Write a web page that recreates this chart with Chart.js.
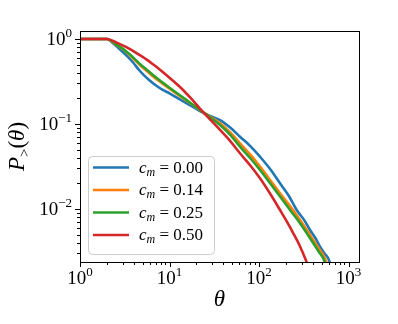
<!DOCTYPE html>
<html>
<head>
<meta charset="utf-8">
<script src="https://cdn.jsdelivr.net/npm/chart.js@4.4.0/dist/chart.umd.min.js"></script>
<style>
html, body { margin:0; padding:0; background:#fff; }
</style>
</head>
<body>
<canvas id="chart" width="398" height="324"></canvas>
<script>
// values (complementary CDF of theta)
var cmLabels = ['0.00', '0.14', '0.25', '0.50'];
var colors = ['#1f77b4', '#ff7f0e', '#2ca02c', '#d62728'];

var blueX = [1, 2, 2.4, 2.8, 3.4, 3.94, 4.5, 5.1, 6, 7.2, 8.5, 10.1, 12.5, 15.6, 21.9, 28, 36.7, 48, 61.3, 80, 102.6, 135, 171.7, 215, 263.8, 320, 371.5, 430, 480.5, 540, 594.5, 640];
var blueY = [1, 1, 0.87, 0.75, 0.62, 0.525, 0.44, 0.38, 0.325, 0.28, 0.25, 0.228, 0.2, 0.175, 0.142, 0.125, 0.111, 0.09, 0.0709, 0.055, 0.0412, 0.029, 0.0201, 0.0143, 0.00973, 0.0074, 0.00566, 0.0045, 0.0036, 0.003, 0.00262, 0.0021];

var orangeX = [1, 2, 2.5, 3, 3.5, 4, 4.7, 5.5, 6.5, 7.5, 8.7, 10, 12.5, 15, 21.9, 28, 36.7, 48, 61.3, 80, 102.6, 135, 171.7, 230, 287.3, 345, 404.6, 470, 546, 590];
var orangeY = [1, 1, 0.86, 0.76, 0.66, 0.58, 0.49, 0.425, 0.365, 0.325, 0.29, 0.26, 0.22, 0.193, 0.146, 0.123, 0.102, 0.079, 0.0593, 0.0435, 0.0315, 0.0215, 0.0153, 0.0103, 0.00743, 0.0056, 0.00432, 0.0034, 0.00262, 0.0021];

var greenX = [1, 2, 2.5, 3, 3.5, 4, 4.7, 5.5, 6.5, 7.5, 8.7, 10, 12.5, 15, 21.9, 28, 36.7, 48, 61.3, 80, 102.6, 135, 171.7, 230, 287.3, 345, 404.6, 470, 522.9, 565];
var greenY = [1, 1, 0.87, 0.77, 0.675, 0.595, 0.505, 0.44, 0.38, 0.335, 0.298, 0.267, 0.225, 0.196, 0.146, 0.121, 0.0974, 0.074, 0.0541, 0.0395, 0.0288, 0.0197, 0.014, 0.0093, 0.00679, 0.0051, 0.00395, 0.0031, 0.00262, 0.0021];

var redX = [1, 2, 2.6, 3.3, 4.2, 5.56, 6.6, 7.83, 10, 13.1, 17, 21.9, 28, 36.7, 48, 61.3, 80, 102.6, 135, 171.7, 205, 241.7, 285, 326.6, 355];
var redY = [1, 1, 0.9, 0.8, 0.69, 0.572, 0.5, 0.435, 0.35, 0.272, 0.205, 0.152, 0.115, 0.085, 0.0625, 0.0452, 0.0325, 0.023, 0.0148, 0.00973, 0.0071, 0.00518, 0.0037, 0.00265, 0.0021];

// axis limits and decade ticks
var xMin = 1, xMax = 1310;
var yMin = 0.00238, yMax = 1.24;
var xMajorExp = [0, 1, 2, 3];
var yMajorExp = [-2, -1, 0];

var SERIF = '"Liberation Serif", "DejaVu Serif", serif';

function pts(xs, ys) {
    var out = [];
    for (var i = 0; i < xs.length; i++) out.push({x: xs[i], y: ys[i]});
    return out;
}

var seriesX = [blueX, orangeX, greenX, redX];
var seriesY = [blueY, orangeY, greenY, redY];
var datasets = [];
for (var i = 0; i < 4; i++) {
    datasets.push({
        label: 'c_m = ' + cmLabels[i],
        data: pts(seriesX[i], seriesY[i]),
        borderColor: colors[i],
        backgroundColor: colors[i],
        borderWidth: 2.6,
        pointRadius: 0,
        cubicInterpolationMode: 'monotone',
        fill: false,
        order: 3 - i
    });
}

// draws a run of text pieces (normal, sub, sup) starting at x
function drawParts(ctx, x, y, parts, align) {
    var total = 0;
    parts.forEach(function (p) { ctx.font = p.font; total += ctx.measureText(p.t).width; });
    if (align === 'center') x -= total / 2;
    if (align === 'right') x -= total;
    ctx.textAlign = 'left';
    ctx.textBaseline = 'alphabetic';
    parts.forEach(function (p) {
        ctx.font = p.font;
        ctx.fillText(p.t, x, y + (p.dy || 0));
        x += ctx.measureText(p.t).width;
    });
    return total;
}

function expStr(e) {
    return e < 0 ? '\u2212' + (-e) : String(e);
}

var mplAxes = {
    id: 'mplAxes',
    afterDatasetsDraw: function (chart) {
        var ctx = chart.ctx;
        var a = chart.chartArea;
        var xs = chart.scales.x, ys = chart.scales.y;
        ctx.save();
        ctx.fillStyle = '#000';
        ctx.strokeStyle = '#000';
        ctx.lineWidth = 1;

        // ticks
        ctx.beginPath();
        xMajorExp.forEach(function (e) {
            for (var m = 1; m < 10; m++) {
                var v = m * Math.pow(10, e);
                if (v < xMin || v > xMax) continue;
                var px = Math.round(xs.getPixelForValue(v)) + 0.5;
                ctx.moveTo(px, a.bottom);
                ctx.lineTo(px, a.bottom + (m === 1 ? 5 : 3));
            }
        });
        yMajorExp.concat([-3]).forEach(function (e) {
            for (var m = 1; m < 10; m++) {
                var v = m * Math.pow(10, e);
                if (v < yMin || v > yMax) continue;
                var py = Math.round(ys.getPixelForValue(v)) + 0.5;
                ctx.moveTo(a.left, py);
                ctx.lineTo(a.left - (m === 1 ? 5 : 3), py);
            }
        });
        ctx.stroke();

        // frame
        ctx.strokeRect(Math.round(a.left) + 0.5, Math.round(a.top) + 0.5,
            Math.round(a.right - a.left), Math.round(a.bottom - a.top));

        // tick labels
        xMajorExp.forEach(function (e) {
            var px = xs.getPixelForValue(Math.pow(10, e));
            drawParts(ctx, px, a.bottom + 22, [
                {t: '10', font: '19px ' + SERIF},
                {t: expStr(e), font: '13px ' + SERIF, dy: -8}
            ], 'center');
        });
        yMajorExp.forEach(function (e) {
            var py = ys.getPixelForValue(Math.pow(10, e));
            drawParts(ctx, a.left - 8, py + 6.5, [
                {t: '10', font: '19px ' + SERIF},
                {t: expStr(e), font: '13px ' + SERIF, dy: -8}
            ], 'right');
        });

        // axis titles
        drawParts(ctx, (a.left + a.right) / 2, 306, [
            {t: '\u03b8', font: 'italic 23px ' + SERIF}
        ], 'center');
        ctx.save();
        ctx.translate(24, (a.top + a.bottom) / 2);
        ctx.rotate(-Math.PI / 2);
        drawParts(ctx, 0, 0, [
            {t: 'P', font: 'italic 23px ' + SERIF},
            {t: '>', font: '15px ' + SERIF, dy: 5},
            {t: '(', font: '23px ' + SERIF},
            {t: '\u03b8', font: 'italic 23px ' + SERIF},
            {t: ')', font: '23px ' + SERIF}
        ], 'center');
        ctx.restore();

        // legend
        var lx = a.left + 8, ly = 156, lw = 126, lh = 98;
        ctx.beginPath();
        ctx.roundRect(lx + 0.5, ly + 0.5, lw, lh, 4);
        ctx.fillStyle = 'rgba(255,255,255,0.8)';
        ctx.fill();
        ctx.strokeStyle = '#cccccc';
        ctx.stroke();
        for (var i = 0; i < 4; i++) {
            var ry = ly + 11.5 + i * 22.5;
            ctx.beginPath();
            ctx.strokeStyle = colors[i];
            ctx.lineWidth = 2.6;
            ctx.moveTo(lx + 5, ry);
            ctx.lineTo(lx + 41, ry);
            ctx.stroke();
            ctx.fillStyle = '#000';
            drawParts(ctx, lx + 51, ry + 5, [
                {t: 'c', font: 'italic 17px ' + SERIF},
                {t: 'm', font: 'italic 12px ' + SERIF, dy: 3},
                {t: ' = ' + cmLabels[i], font: '17px ' + SERIF}
            ], 'left');
        }
        ctx.restore();
    }
};

new Chart(document.getElementById('chart'), {
    type: 'line',
    data: { datasets: datasets },
    options: {
        responsive: false,
        animation: false,
        devicePixelRatio: 1,
        layout: { padding: { left: 80, right: 39, top: 31, bottom: 62 } },
        plugins: { legend: { display: false }, tooltip: { enabled: false } },
        scales: {
            x: { type: 'logarithmic', min: xMin, max: xMax, display: false },
            y: { type: 'logarithmic', min: yMin, max: yMax, display: false }
        }
    },
    plugins: [mplAxes]
});
</script>
</body>
</html>
